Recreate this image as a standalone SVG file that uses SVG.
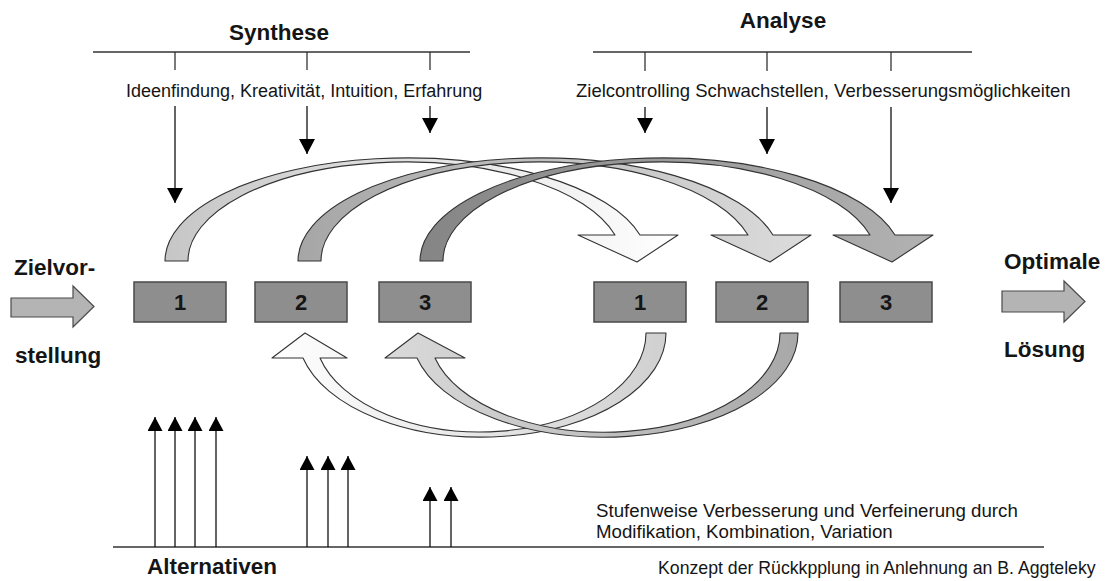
<svg xmlns="http://www.w3.org/2000/svg" width="1117" height="581" viewBox="0 0 1117 581">
<style>
text{font-family:"Liberation Sans",Arial,sans-serif;fill:#151515}
.b{font-weight:bold;font-size:22.5px}
.t{font-size:18px}
.num{font-weight:bold;font-size:22px;text-anchor:middle}
.rule{stroke:#333;stroke-width:1.5;fill:none}
.tick{stroke:#333;stroke-width:1.3;fill:none}
.arw{stroke:#111;stroke-width:1.3;fill:none;marker-end:url(#ah)}
.alt{stroke:#111;stroke-width:1.3;fill:none;marker-end:url(#ah2)}
.box{fill:#8e8e8e;stroke:#4a4a4a;stroke-width:1.5}
.big{fill:#b4b4b4;stroke:#4a4a4a;stroke-width:1.2}
.band{stroke:#333;stroke-width:1.1;stroke-linejoin:round}
</style>
<defs>
<marker id="ah" markerUnits="userSpaceOnUse" markerWidth="15" markerHeight="16" viewBox="0 0 15 16" refX="15" refY="8" orient="auto"><path d="M0,0 L15,8 L0,16 Z" fill="#000"/></marker>
<marker id="ah2" markerUnits="userSpaceOnUse" markerWidth="14" markerHeight="15" viewBox="0 0 14 15" refX="14" refY="7.5" orient="auto"><path d="M0,0 L14,7.5 L0,15 Z" fill="#000"/></marker>
<linearGradient id="g1" x1="0" y1="0" x2="1" y2="0"><stop offset="0" stop-color="#c6c6c6"/><stop offset="1" stop-color="#ffffff"/></linearGradient>
<linearGradient id="g2" x1="0" y1="0" x2="1" y2="0"><stop offset="0" stop-color="#a6a6a6"/><stop offset="1" stop-color="#dcdcdc"/></linearGradient>
<linearGradient id="g3" x1="0" y1="0" x2="1" y2="0"><stop offset="0" stop-color="#858585"/><stop offset="1" stop-color="#b2b2b2"/></linearGradient>
<linearGradient id="gA" x1="1" y1="0" x2="0" y2="0"><stop offset="0" stop-color="#d0d0d0"/><stop offset="1" stop-color="#ffffff"/></linearGradient>
<linearGradient id="gB" x1="1" y1="0" x2="0" y2="0"><stop offset="0" stop-color="#a8a8a8"/><stop offset="1" stop-color="#dadada"/></linearGradient>
</defs>

<g id="synthese">
<text class="b" x="279" y="40" text-anchor="middle">Synthese</text>
<line class="rule" x1="93" y1="52" x2="470" y2="52"/>
<line class="tick" x1="175" y1="52" x2="175" y2="70"/>
<line class="tick" x1="307" y1="52" x2="307" y2="70"/>
<line class="tick" x1="430" y1="52" x2="430" y2="70"/>
<text class="t" x="126" y="97">Ideenfindung, Kreativität, Intuition, Erfahrung</text>
</g>

<g id="analyse">
<text class="b" x="783" y="28" text-anchor="middle">Analyse</text>
<line class="rule" x1="593" y1="52" x2="972" y2="52"/>
<line class="tick" x1="645" y1="52" x2="645" y2="71"/>
<line class="tick" x1="767" y1="52" x2="767" y2="71"/>
<line class="tick" x1="891" y1="52" x2="891" y2="71"/>
<text x="576" y="97" style="font-size:18.5px">Zielcontrolling Schwachstellen, Verbesserungsmöglichkeiten</text>
</g>

<g id="input">
<text class="b" x="14" y="275">Zielvor-</text>
<text class="b" x="15" y="363">stellung</text>
<path class="big" d="M11,298 H73 V286 L94,306.5 L73,327 V317 H11 Z"/>
</g>

<g id="output">
<text class="b" x="1004" y="269">Optimale</text>
<text class="b" x="1004" y="357">Lösung</text>
<path class="big" d="M1002,291 H1064 V281 L1085,301.5 L1064,322 V312 H1002 Z"/>
</g>

<g id="s1"><rect class="box" x="134" y="282" width="92" height="40"/><text class="num" x="180" y="310">1</text></g>
<g id="s2"><rect class="box" x="255" y="282" width="92" height="40"/><text class="num" x="301" y="310">2</text></g>
<g id="s3"><rect class="box" x="379" y="282" width="92" height="40"/><text class="num" x="425" y="310">3</text></g>
<g id="a1"><rect class="box" x="594" y="282" width="92" height="40"/><text class="num" x="640" y="310">1</text></g>
<g id="a2"><rect class="box" x="716" y="282" width="92" height="40"/><text class="num" x="762" y="310">2</text></g>
<g id="a3"><rect class="box" x="840" y="282" width="92" height="40"/><text class="num" x="886" y="310">3</text></g>

<g id="connectors">
<line class="arw" x1="175" y1="106" x2="175" y2="203"/>
<line class="arw" x1="307" y1="106" x2="307" y2="154"/>
<line class="arw" x1="430" y1="106" x2="430" y2="133"/>
<line class="arw" x1="645" y1="107" x2="645" y2="133"/>
<line class="arw" x1="767" y1="107" x2="767" y2="154"/>
<line class="arw" x1="891" y1="107" x2="891" y2="203"/>

<path class="band" fill="url(#g1)" d="M165,261 A241.4,103 0 0 1 640,235 L678,235 L637,262 L578,235 L615,235 A217.3,99 0 0 0 188,261 Z"/>
<path class="band" fill="url(#g2)" d="M298,261 A241.4,103 0 0 1 773,235 L811,235 L770,262 L711,235 L748,235 A217.3,99 0 0 0 321,261 Z"/>
<path class="band" fill="url(#g3)" d="M420,261 A241.4,103 0 0 1 895,235 L933,235 L892,262 L833,235 L870,235 A217.3,99 0 0 0 443,261 Z"/>

<path class="band" fill="url(#gA)" d="M666,333 A184.2,104 0 0 1 303,358 L272,358 L305,333 L347,358 L320,358 A165.7,99 0 0 0 646,333 Z"/>
<path class="band" fill="url(#gB)" d="M798,333 A193.3,104 0 0 1 417,358 L385,358 L418,333 L465,358 L435,358 A175.3,99 0 0 0 780,333 Z"/>
</g>

<g id="alternativen">
<line class="rule" x1="113" y1="547" x2="1044" y2="547"/>
<line class="alt" x1="155" y1="547" x2="155" y2="417"/>
<line class="alt" x1="175" y1="547" x2="175" y2="417"/>
<line class="alt" x1="195" y1="547" x2="195" y2="417"/>
<line class="alt" x1="216" y1="547" x2="216" y2="417"/>
<line class="alt" x1="307" y1="547" x2="307" y2="456"/>
<line class="alt" x1="328" y1="547" x2="328" y2="456"/>
<line class="alt" x1="348" y1="547" x2="348" y2="456"/>
<line class="alt" x1="430" y1="547" x2="430" y2="487"/>
<line class="alt" x1="451" y1="547" x2="451" y2="487"/>
<text class="b" x="147" y="574">Alternativen</text>
<text x="596" y="517" style="font-size:18.7px">Stufenweise Verbesserung und Verfeinerung durch</text>
<text x="596" y="538" style="font-size:18.7px">Modifikation, Kombination, Variation</text>
<text x="658" y="574" style="font-size:17.7px">Konzept der Rückkpplung in Anlehnung an B. Aggteleky</text>
</g>
</svg>
